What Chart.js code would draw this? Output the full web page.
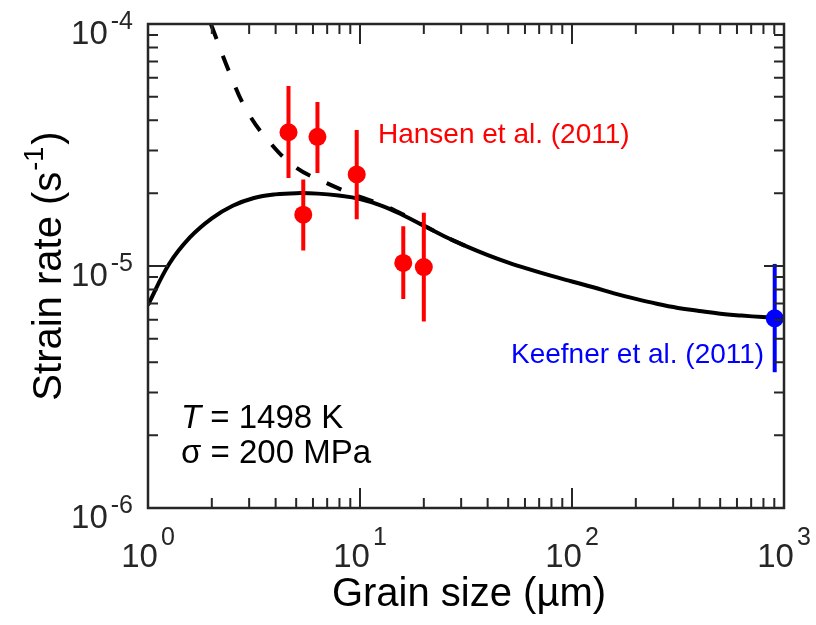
<!DOCTYPE html>
<html lang="en">
<head>
  <meta charset="UTF-8">
  <title>Strain rate vs grain size</title>
  <script src="https://cdn.jsdelivr.net/npm/chart.js"></script>
  <style>
    body { margin: 0; background: #fff; }
    #wrap { width: 816px; height: 625px; }
  </style>
</head>
<body>
  <div id="wrap"><canvas id="strainChart" width="816" height="625"></canvas></div>

  <script>
    // Hansen et al. (2011) measurements
    const hansenSize = [4.6, 5.4, 6.3, 9.65, 16.0, 20.0];
    const hansenRate = [3.57e-5, 1.63e-5, 3.42e-5, 2.39e-5, 1.03e-5, 9.9e-6];
    const hansenLow = [2.31e-5, 1.16e-5, 2.42e-5, 1.56e-5, 7.3e-6, 5.9e-6];
    const hansenHigh = [5.54e-5, 2.28e-5, 4.76e-5, 3.65e-5, 1.46e-5, 1.66e-5];

    // Keefner et al. (2011)
    const keefnerSize = [904];
    const keefnerRate = [6.08e-6];
    const keefnerLow = [3.64e-6];
    const keefnerHigh = [1.02e-5];

    // model curve (solid)
    const modelSize = [1, 1.26, 1.58, 2.0, 2.51, 3.16, 3.98, 5.01, 6.31, 7.94, 10, 12.6, 15.8, 20, 25.1, 31.6,
      39.8, 50.1, 63.1, 79.4, 100, 126, 158, 200, 251, 316, 398, 501, 631, 794, 1000];
    const modelRate = [6.90e-6, 1.021e-5, 1.315e-5, 1.574e-5, 1.774e-5, 1.910e-5, 1.977e-5, 2.000e-5, 1.991e-5,
      1.954e-5, 1.892e-5, 1.778e-5, 1.629e-5, 1.466e-5, 1.324e-5, 1.208e-5, 1.112e-5, 1.033e-5, 9.68e-6,
      9.12e-6, 8.63e-6, 8.17e-6, 7.71e-6, 7.31e-6, 6.98e-6, 6.71e-6, 6.52e-6, 6.35e-6, 6.24e-6, 6.15e-6, 6.08e-6];
    // dashed curve
    const dashSize = [1.98, 2.46, 2.92, 3.69, 4.94, 6.97, 10, 12.6, 15.8, 20, 25.1, 31.6];
    const dashRate = [1.0e-4, 6.1e-5, 4.4e-5, 3.3e-5, 2.57e-5, 2.2e-5, 1.93e-5, 1.80e-5, 1.64e-5, 1.47e-5, 1.325e-5, 1.208e-5];

    const xTicks = [1, 10, 100, 1000];
    const yTicks = [1e-6, 1e-5, 1e-4];

    const toPoints = (xs, ys) => xs.map((x, i) => ({ x: x, y: ys[i] }));
    const toBars = (xs, lo, hi) => {
      const out = [];
      xs.forEach((x, i) => { out.push({ x: x, y: lo[i] }, { x: x, y: hi[i] }, { x: x, y: null }); });
      return out;
    };

    const FONT = '"Liberation Sans", Arial, Helvetica, sans-serif';
    const AXIS = '#262626';

    // draws "10" with a raised exponent, anchored by align
    function drawPower(ctx, base, exp, x, y, align, bigSize, smallSize, supRise) {
      ctx.font = bigSize + 'px ' + FONT;
      const wb = ctx.measureText(base).width;
      ctx.font = smallSize + 'px ' + FONT;
      const we = ctx.measureText(exp).width;
      const gap = 3;
      const total = wb + gap + we;
      let left = x;
      if (align === 'center') left = x - total / 2;
      if (align === 'right') left = x - total;
      ctx.textAlign = 'left';
      ctx.textBaseline = 'alphabetic';
      ctx.font = bigSize + 'px ' + FONT;
      ctx.fillText(base, left, y);
      ctx.font = smallSize + 'px ' + FONT;
      ctx.fillText(exp, left + wb + gap, y - supRise);
    }

    const frame = {
      id: 'frame',
      afterDatasetsDraw(chart) {
        const ctx = chart.ctx;
        const a = chart.chartArea;
        const xs = chart.scales.x, ys = chart.scales.y;
        ctx.save();
        ctx.strokeStyle = AXIS;
        ctx.fillStyle = AXIS;
        ctx.lineWidth = 2;

        // minor + major ticks on all four sides
        ctx.beginPath();
        for (let d = 0; d < 3; d++) {
          for (let m = 1; m <= 10; m++) {
            const v = Math.pow(10, d) * m;
            const px = xs.getPixelForValue(v);
            const len = (m === 1 || m === 10) ? 20 : 10;
            ctx.moveTo(px, a.bottom); ctx.lineTo(px, a.bottom - len);
            ctx.moveTo(px, a.top); ctx.lineTo(px, a.top + len);
          }
          if (d < 2) {
            for (let m = 1; m <= 10; m++) {
              const v = Math.pow(10, d - 6) * m;
              const py = ys.getPixelForValue(v);
              const len = (m === 1 || m === 10) ? 20 : 10;
              ctx.moveTo(a.left, py); ctx.lineTo(a.left + len, py);
              ctx.moveTo(a.right, py); ctx.lineTo(a.right - len, py);
            }
          }
        }
        ctx.stroke();
        ctx.lineWidth = 2.5;
        ctx.strokeRect(a.left, a.top, a.right - a.left, a.bottom - a.top);

        // tick labels
        ctx.fillStyle = '#262626';
        xTicks.forEach(v => {
          const px = xs.getPixelForValue(v);
          drawPower(ctx, '10', String(Math.round(Math.log10(v))), px, a.bottom + 59, 'center', 33, 25, 22);
        });
        yTicks.forEach(v => {
          const py = ys.getPixelForValue(v);
          drawPower(ctx, '10', String(Math.round(Math.log10(v))), a.left - 15, py + 20, 'right', 33, 25, 15);
        });

        // axis titles
        ctx.fillStyle = '#000';
        ctx.font = '40px ' + FONT;
        ctx.textAlign = 'center';
        ctx.textBaseline = 'alphabetic';
        ctx.fillText('Grain size (\u00b5m)', (a.left + a.right) / 2 + 3, 606);

        ctx.save();
        ctx.translate(61, (a.top + a.bottom) / 2);
        ctx.rotate(-Math.PI / 2);
        ctx.font = '40px ' + FONT;
        const p1 = 'Strain rate (s', p3 = ')';
        const w1 = ctx.measureText(p1).width, w3 = ctx.measureText(p3).width;
        ctx.font = '27px ' + FONT;
        const w2 = ctx.measureText('-1').width;
        const sx = -(w1 + w2 + w3 + 3) / 2;
        ctx.textAlign = 'left';
        ctx.font = '40px ' + FONT;
        ctx.fillText(p1, sx, 0);
        ctx.font = '27px ' + FONT;
        ctx.fillText('-1', sx + w1 + 1, -18);
        ctx.font = '40px ' + FONT;
        ctx.fillText(p3, sx + w1 + w2 + 3, 0);
        ctx.restore();

        // annotations
        ctx.textAlign = 'left';
        ctx.font = '28px ' + FONT;
        ctx.fillStyle = '#ff0000';
        ctx.fillText('Hansen et al. (2011)', 378, 143);
        ctx.fillStyle = '#0000ff';
        ctx.fillText('Keefner et al. (2011)', 511, 363);

        ctx.fillStyle = '#000';
        ctx.font = 'italic 33px ' + FONT;
        ctx.fillText('T', 181, 428);
        const wt = ctx.measureText('T').width;
        ctx.font = '33px ' + FONT;
        ctx.fillText(' = 1498 K', 181 + wt, 428);
        ctx.fillText('\u03c3 = 200 MPa', 181, 463);
        ctx.restore();
      }
    };

    const ctx = document.getElementById('strainChart').getContext('2d');
    const strainChart = new Chart(ctx, {
      type: 'line',
      data: {
        datasets: [
          {
            label: 'Hansen et al. (2011)',
            data: toPoints(hansenSize, hansenRate),
            showLine: false,
            pointRadius: 9,
            pointBackgroundColor: '#ff0000',
            pointBorderWidth: 0,
            order: 0
          },
          {
            label: 'Keefner et al. (2011)',
            data: toPoints(keefnerSize, keefnerRate),
            showLine: false,
            pointRadius: 9,
            pointBackgroundColor: '#0000ff',
            pointBorderWidth: 0,
            order: 0
          },
          {
            label: 'Hansen error',
            data: toBars(hansenSize, hansenLow, hansenHigh),
            borderColor: '#ff0000',
            borderWidth: 4,
            pointRadius: 0,
            spanGaps: false,
            order: 1
          },
          {
            label: 'Keefner error',
            data: toBars(keefnerSize, keefnerLow, keefnerHigh),
            borderColor: '#0000ff',
            borderWidth: 4,
            pointRadius: 0,
            spanGaps: false,
            order: 1
          },
          {
            label: 'Model',
            data: toPoints(modelSize, modelRate),
            borderColor: '#000',
            borderWidth: 4,
            pointRadius: 0,
            tension: 0.4,
            order: 2
          },
          {
            label: 'Model (dashed)',
            data: toPoints(dashSize, dashRate),
            borderColor: '#000',
            borderWidth: 4,
            borderDash: [16, 18],
            pointRadius: 0,
            tension: 0.4,
            order: 3
          }
        ]
      },
      options: {
        responsive: false,
        animation: false,
        layout: { padding: { left: 148, top: 24, right: 32, bottom: 117 } },
        plugins: { legend: { display: false }, tooltip: { enabled: false } },
        scales: {
          x: { type: 'logarithmic', min: 1, max: 1000, display: false },
          y: { type: 'logarithmic', min: 1e-6, max: 1e-4, display: false }
        }
      },
      plugins: [frame]
    });
  </script>
</body>
</html>
